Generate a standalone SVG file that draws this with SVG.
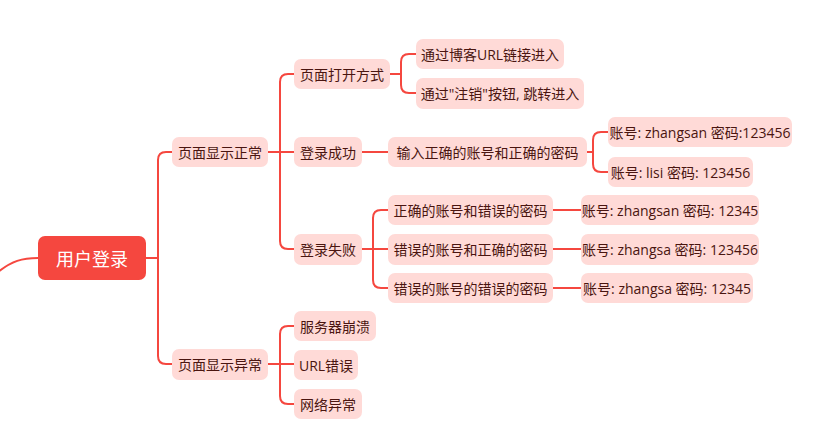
<svg xmlns="http://www.w3.org/2000/svg" width="818" height="437" viewBox="0 0 818 437">
<style>
.n rect{fill:#FFDAD7}
.n text{font-family:"Open Sans","Noto Sans CJK SC",sans-serif;font-size:14px;fill:#4a1510;text-anchor:middle;dominant-baseline:central}
.r rect{fill:#F5473F}
.r text{font-family:"Noto Sans CJK SC","Noto Sans",sans-serif;font-size:18px;fill:#fff;text-anchor:middle;dominant-baseline:central}
.c path{fill:none;stroke:#F5473F;stroke-width:2;stroke-linecap:round}
</style>
<rect width="818" height="437" fill="#fff"/>
<g class="c" id="connectors">
<path d="M-2,272 C12,261 22,258 38,258"/>
<path d="M146,258 H158"/>
<path d="M172,152 H166 Q158,152 158,160 V356 Q158,364 166,364 H172"/>
<path d="M268,152 H294"/>
<path d="M294,74 H288 Q280,74 280,82 V241 Q280,249 288,249 H294"/>
<path d="M390,74 H401"/>
<path d="M416,54 H409 Q401,54 401,62 V85 Q401,93 409,93 H416"/>
<path d="M362,152 H388"/>
<path d="M587,152 H593"/>
<path d="M608,132 H601 Q593,132 593,140 V164 Q593,172 601,172 H608"/>
<path d="M362,249 H388"/>
<path d="M388,210 H381 Q373,210 373,218 V280 Q373,288 381,288 H388"/>
<path d="M553,210 H581"/>
<path d="M553,249 H581"/>
<path d="M553,288 H581"/>
<path d="M268,364 H294"/>
<path d="M294,326 H288 Q280,326 280,334 V396 Q280,404 288,404 H294"/>
</g>
<g class="r" id="root"><rect x="38" y="236" width="108" height="44" rx="7"/><text x="92" y="258">用户登录</text></g>
<g class="n" id="n1"><rect x="172" y="137" width="96" height="30" rx="7"/><text x="220" y="152">页面显示正常</text></g>
<g class="n" id="n2"><rect x="172" y="349" width="96" height="31" rx="7"/><text x="220" y="364.5">页面显示异常</text></g>
<g class="n" id="n11"><rect x="294" y="59" width="96" height="30" rx="7"/><text x="342" y="74">页面打开方式</text></g>
<g class="n" id="n12"><rect x="294" y="137" width="68" height="30" rx="7"/><text x="328" y="152">登录成功</text></g>
<g class="n" id="n13"><rect x="294" y="234" width="68" height="31" rx="7"/><text x="328" y="249.5">登录失败</text></g>
<g class="n" id="n111"><rect x="416" y="39" width="148" height="30" rx="7"/><text x="490" y="54">通过博客URL链接进入</text></g>
<g class="n" id="n112"><rect x="416" y="78" width="168" height="31" rx="7"/><text x="500" y="93.5">通过"注销"按钮, 跳转进入</text></g>
<g class="n" id="n121"><rect x="388" y="137" width="199" height="30" rx="7"/><text x="487.5" y="152">输入正确的账号和正确的密码</text></g>
<g class="n" id="n1211"><rect x="608" y="117" width="184" height="30" rx="7"/><text x="700" y="132">账号: zhangsan 密码:123456</text></g>
<g class="n" id="n1212"><rect x="608" y="157" width="145" height="30" rx="7"/><text x="680.5" y="172">账号: lisi 密码: 123456</text></g>
<g class="n" id="n131"><rect x="388" y="195" width="165" height="30" rx="7"/><text x="470.5" y="210">正确的账号和错误的密码</text></g>
<g class="n" id="n132"><rect x="388" y="234" width="165" height="31" rx="7"/><text x="470.5" y="249.5">错误的账号和正确的密码</text></g>
<g class="n" id="n133"><rect x="388" y="273" width="165" height="30" rx="7"/><text x="470.5" y="288">错误的账号的错误的密码</text></g>
<g class="n" id="n1311"><rect x="581" y="195" width="178" height="30" rx="7"/><text x="670" y="210">账号: zhangsan 密码: 12345</text></g>
<g class="n" id="n1321"><rect x="581" y="234" width="178" height="31" rx="7"/><text x="670" y="249.5">账号: zhangsa 密码: 123456</text></g>
<g class="n" id="n1331"><rect x="581" y="273" width="172" height="30" rx="7"/><text x="667" y="288">账号: zhangsa 密码: 12345</text></g>
<g class="n" id="n21"><rect x="294" y="311" width="82" height="30" rx="7"/><text x="335" y="326">服务器崩溃</text></g>
<g class="n" id="n22"><rect x="294" y="350" width="64" height="30" rx="7"/><text x="326" y="365">URL错误</text></g>
<g class="n" id="n23"><rect x="294" y="389" width="68" height="30" rx="7"/><text x="328" y="404">网络异常</text></g>
</svg>
